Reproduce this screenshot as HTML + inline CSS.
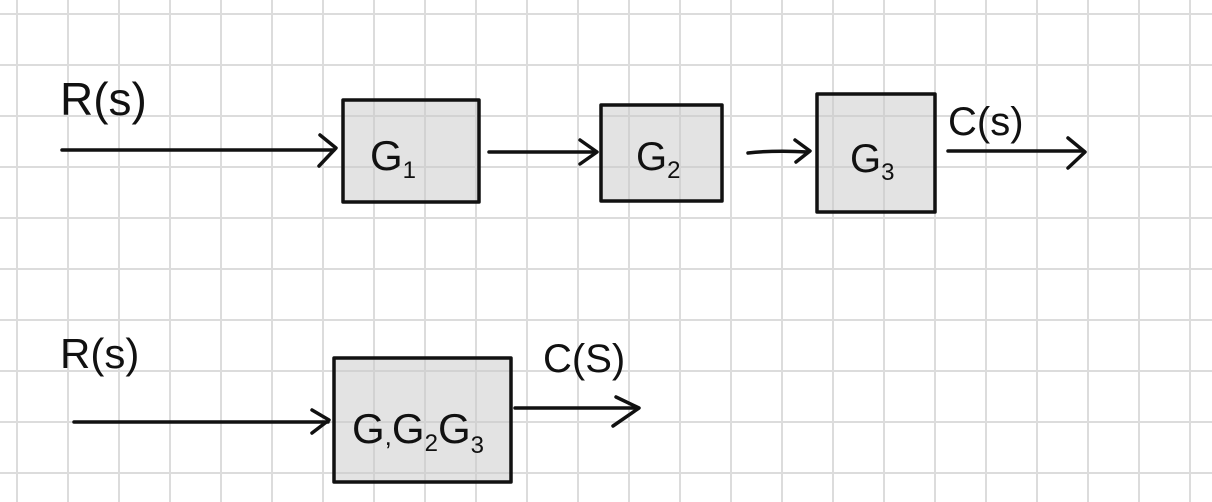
<!DOCTYPE html>
<html><head><meta charset="utf-8"><style>
html,body{margin:0;padding:0;background:#fff;}
svg{display:block}
text{font-family:"Liberation Sans",sans-serif;fill:#111;}
</style></head><body>
<svg width="1212" height="502" viewBox="0 0 1212 502">
<g id="grid" stroke="#dcdcdc" stroke-width="2"></g>
<g stroke="#111" stroke-width="3.5" fill="none" stroke-linecap="round" stroke-linejoin="round">
  <g><line x1="62" y1="150" x2="334" y2="150"/><polyline points="320,135 336,148 319,166"/></g>
  <rect x="343" y="100" width="136" height="102" fill="rgba(200,200,200,0.5)"/>
  <g><line x1="489" y1="152" x2="595" y2="152"/><polyline points="580,140 597,152 580,164"/></g>
  <rect x="601" y="105" width="121" height="96" fill="rgba(200,200,200,0.5)"/>
  <g><path d="M748,153 Q775,150 808,152"/><polyline points="795,140 810,151 796,162"/></g>
  <rect x="817" y="94" width="118" height="118" fill="rgba(200,200,200,0.5)"/>
  <g><line x1="948" y1="151" x2="1083" y2="151"/><polyline points="1068,138 1085,152 1068,168"/></g>
  <g><line x1="74" y1="422" x2="328" y2="422"/><polyline points="312,410 329,420 312,433"/></g>
  <rect x="334" y="358" width="177" height="124" fill="rgba(200,200,200,0.5)"/>
  <g><line x1="515" y1="408" x2="637" y2="408"/><polyline points="616,397 639,408 613,426"/></g>
</g>
<text x="60" y="115" font-size="46">R(s)</text>
<text x="370" y="170" font-size="42">G<tspan font-size="24" dy="8">1</tspan></text>
<text x="636" y="170" font-size="40">G<tspan font-size="24" dy="8">2</tspan></text>
<text x="850" y="172" font-size="40">G<tspan font-size="24" dy="8">3</tspan></text>
<text x="948" y="135" font-size="40">C(s)</text>
<text x="60" y="368" font-size="42">R(s)</text>
<text x="352" y="443" font-size="42">G<tspan font-size="26" dy="2">,</tspan><tspan dy="-2">G</tspan><tspan font-size="24" dy="8">2</tspan><tspan dy="-8">G</tspan><tspan font-size="24" dy="10">3</tspan></text>
<text x="543" y="372" font-size="40">C(S)</text>
</svg>
<script>
var g=document.getElementById('grid');
for(var x=17;x<1212;x+=51){var l=document.createElementNS('http://www.w3.org/2000/svg','line');l.setAttribute('x1',x);l.setAttribute('x2',x);l.setAttribute('y1',0);l.setAttribute('y2',502);


g.appendChild(l);}
for(var y=14;y<502;y+=51){var l=document.createElementNS('http://www.w3.org/2000/svg','line');l.setAttribute('y1',y);l.setAttribute('y2',y);l.setAttribute('x1',0);l.setAttribute('x2',1212);


g.appendChild(l);}
</script>
</body></html>
